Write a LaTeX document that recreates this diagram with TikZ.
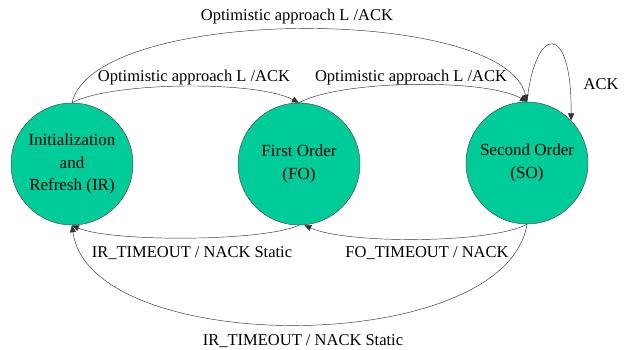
\documentclass[tikz,border=0pt]{standalone}
\usepackage{fontspec}
\setmainfont{Liberation Serif}
\usetikzlibrary{arrows.meta}
\definecolor{stategreen}{RGB}{0,204,153}
\begin{document}
\begin{tikzpicture}[x=1pt,y=-1pt,
 state/.style={circle,draw=black!70,line width=0.5pt,fill=stategreen,minimum size=122pt,inner sep=0pt,align=center,font=\fontsize{17}{22.5}\selectfont},
 edge/.style={draw=black!80,line width=0.45pt,-{Triangle[length=7pt,width=6pt]}},
 lbl/.style={font=\fontsize{16.5}{20}\selectfont,inner sep=0pt}]
\useasboundingbox (0,0) rectangle (624,350);
\node[state] (IR) at (72,164) {Initialization\\and\\Refresh (IR)};
\node[state] (FO) at (299,164) {First Order\\(FO)};
\node[state] (SO) at (527,163) {Second Order\\(SO)};

\draw[edge] (IR.north) .. controls (110,82) and (255,80) .. (FO.north);
\draw[edge] (FO.north) .. controls (340,80) and (485,78) .. (SO.north);
\draw[edge] (IR.north) .. controls (95,5) and (505,5) .. (SO.north);
\draw[edge] (SO.north) .. controls (535,25) and (572,20) .. (SO.44);
\draw[edge] (FO.south) .. controls (262,242) and (110,242) .. (IR.south);
\draw[edge] (SO.south) .. controls (490,244) and (345,244) .. (FO.-85);
\draw[edge] (SO.south) .. controls (505,358) and (90,358) .. (IR.south);

\node[lbl] (l1) at (297,17) {Optimistic approach L /ACK};
\node[lbl] (l2) at (194,78) {Optimistic approach L /ACK};
\node[lbl] (l3) at (411,78) {Optimistic approach L /ACK};
\node[lbl] (l4) at (601,84) {ACK};
\node[lbl] (l5) at (192,253) {IR\_TIMEOUT / NACK Static};
\node[lbl] (l6) at (427,253) {FO\_TIMEOUT / NACK};
\node[lbl] (l7) at (303,341) {IR\_TIMEOUT / NACK Static};
\end{tikzpicture}
\end{document}
